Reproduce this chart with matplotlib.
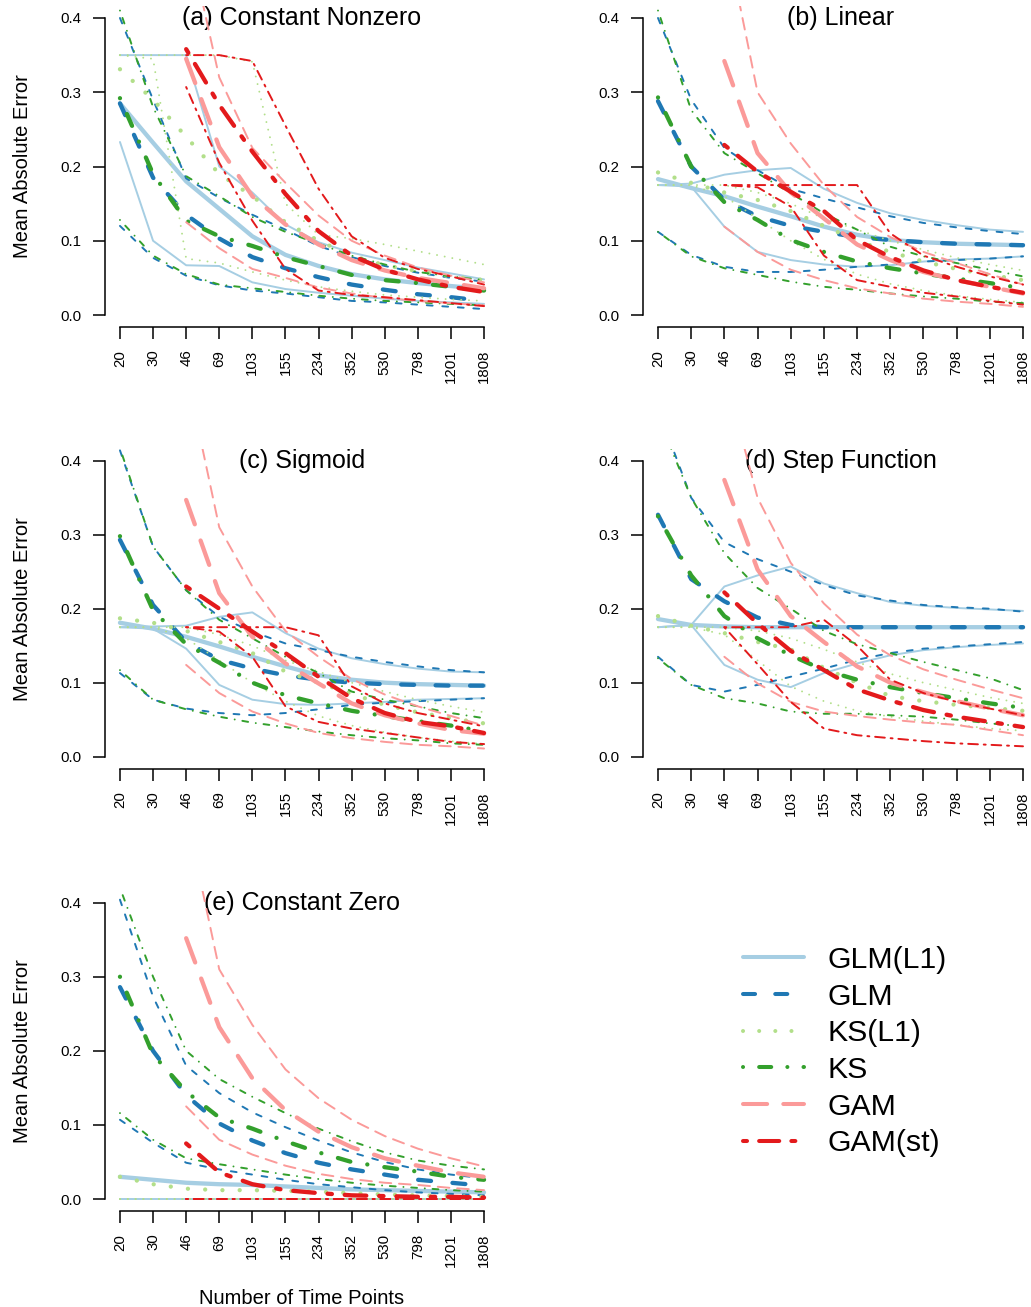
import numpy as np
import matplotlib
matplotlib.use('Agg')
import matplotlib.pyplot as plt
from matplotlib.lines import Line2D

nan = np.nan

N_LABELS = ['20', '30', '46', '69', '103', '155', '234', '352', '530', '798', '1201', '1808']
METHODS = ['GLM(L1)', 'GLM', 'KS(L1)', 'KS', 'GAM', 'GAM(st)']
TITLES = ['(a) Constant Nonzero', '(b) Linear', '(c) Sigmoid', '(d) Step Function', '(e) Constant Zero']
Y_TICKS = [0.0, 0.1, 0.2, 0.3, 0.4]
Y_TICK_LABELS = ['0.0', '0.1', '0.2', '0.3', '0.4']
Z12 = [0.0] * 12
Z_GAM = [nan, nan] + [0.0] * 10

# each series: (median, lower, upper)
# ---- (a) Constant Nonzero
A_GLML1 = ([0.285, 0.232, 0.180, 0.143, 0.106, 0.081, 0.066, 0.055, 0.048, 0.043, 0.039, 0.035],
           [0.233, 0.100, 0.067, 0.066, 0.044, 0.035, 0.030, 0.026, 0.022, 0.019, 0.017, 0.015],
           [0.350, 0.350, 0.350, 0.200, 0.165, 0.122, 0.098, 0.084, 0.074, 0.064, 0.056, 0.048])
A_GLM = ([0.285, 0.185, 0.135, 0.103, 0.078, 0.063, 0.051, 0.041, 0.034, 0.028, 0.024, 0.019],
         [0.120, 0.077, 0.053, 0.040, 0.033, 0.029, 0.024, 0.019, 0.017, 0.014, 0.011, 0.008],
         [0.400, 0.290, 0.184, 0.158, 0.135, 0.115, 0.093, 0.078, 0.066, 0.057, 0.050, 0.045])
A_KSL1 = ([0.331, 0.290, 0.240, 0.190, 0.160, 0.125, 0.100, 0.080, 0.067, 0.059, 0.052, 0.047],
          [0.350, 0.345, 0.076, 0.070, 0.058, 0.047, 0.038, 0.032, 0.027, 0.024, 0.021, 0.019],
          [0.350, 0.350, 0.350, 0.350, 0.341, 0.150, 0.108, 0.103, 0.095, 0.086, 0.077, 0.068])
A_KS = ([0.292, 0.190, 0.127, 0.106, 0.093, 0.078, 0.066, 0.054, 0.047, 0.043, 0.038, 0.033],
        [0.128, 0.080, 0.055, 0.041, 0.036, 0.031, 0.026, 0.022, 0.019, 0.017, 0.015, 0.013],
        [0.410, 0.280, 0.187, 0.160, 0.132, 0.112, 0.096, 0.080, 0.068, 0.058, 0.052, 0.047])
A_GAM = ([nan, nan, 0.345, 0.226, 0.160, 0.122, 0.095, 0.074, 0.060, 0.050, 0.043, 0.036],
         [nan, nan, 0.125, 0.090, 0.062, 0.050, 0.037, 0.029, 0.023, 0.019, 0.016, 0.013],
         [nan, nan, 0.520, 0.320, 0.225, 0.178, 0.134, 0.100, 0.080, 0.064, 0.053, 0.044])
A_GAMST = ([nan, nan, 0.358, 0.283, 0.220, 0.163, 0.113, 0.080, 0.061, 0.048, 0.038, 0.031],
           [nan, nan, 0.307, 0.205, 0.127, 0.062, 0.033, 0.027, 0.024, 0.020, 0.016, 0.012],
           [nan, nan, 0.350, 0.350, 0.342, 0.255, 0.170, 0.106, 0.077, 0.062, 0.052, 0.041])

# ---- (b) Linear
B_GLML1 = ([0.183, 0.171, 0.160, 0.146, 0.133, 0.119, 0.108, 0.101, 0.098, 0.096, 0.095, 0.094],
           [0.175, 0.173, 0.119, 0.085, 0.074, 0.068, 0.065, 0.067, 0.072, 0.075, 0.076, 0.079],
           [0.175, 0.177, 0.189, 0.195, 0.198, 0.170, 0.151, 0.137, 0.128, 0.121, 0.115, 0.112])
B_GLM = ([0.288, 0.200, 0.155, 0.133, 0.120, 0.112, 0.105, 0.101, 0.098, 0.096, 0.095, 0.094],
         [0.112, 0.081, 0.065, 0.058, 0.058, 0.061, 0.065, 0.068, 0.072, 0.074, 0.076, 0.079],
         [0.400, 0.290, 0.225, 0.195, 0.170, 0.157, 0.145, 0.133, 0.124, 0.118, 0.113, 0.109])
B_KSL1 = ([0.192, 0.178, 0.165, 0.155, 0.140, 0.120, 0.100, 0.085, 0.072, 0.062, 0.054, 0.047],
          [0.175, 0.175, 0.160, 0.130, 0.100, 0.075, 0.055, 0.042, 0.033, 0.026, 0.021, 0.017],
          [0.175, 0.175, 0.175, 0.165, 0.150, 0.130, 0.115, 0.100, 0.088, 0.077, 0.068, 0.060])
B_KS = ([0.293, 0.200, 0.152, 0.128, 0.101, 0.085, 0.072, 0.063, 0.056, 0.049, 0.043, 0.036],
        [0.112, 0.079, 0.063, 0.054, 0.045, 0.038, 0.034, 0.029, 0.025, 0.022, 0.018, 0.016],
        [0.410, 0.276, 0.218, 0.191, 0.164, 0.137, 0.115, 0.092, 0.079, 0.070, 0.061, 0.052])
B_GAM = ([nan, nan, 0.342, 0.218, 0.165, 0.130, 0.095, 0.074, 0.058, 0.047, 0.038, 0.029],
         [nan, nan, 0.119, 0.085, 0.061, 0.047, 0.036, 0.029, 0.022, 0.018, 0.015, 0.011],
         [nan, nan, 0.520, 0.300, 0.231, 0.175, 0.132, 0.105, 0.085, 0.070, 0.055, 0.041])
B_GAMST = ([nan, nan, 0.229, 0.193, 0.166, 0.140, 0.101, 0.078, 0.060, 0.047, 0.038, 0.030],
           [nan, nan, 0.175, 0.172, 0.146, 0.080, 0.047, 0.038, 0.030, 0.025, 0.019, 0.014],
           [nan, nan, 0.175, 0.175, 0.175, 0.175, 0.175, 0.110, 0.080, 0.065, 0.052, 0.041])

# ---- (c) Sigmoid
C_GLML1 = ([0.181, 0.173, 0.162, 0.149, 0.135, 0.122, 0.110, 0.104, 0.100, 0.098, 0.097, 0.096],
           [0.175, 0.173, 0.146, 0.097, 0.077, 0.071, 0.070, 0.072, 0.074, 0.077, 0.078, 0.079],
           [0.175, 0.176, 0.177, 0.189, 0.195, 0.167, 0.146, 0.133, 0.125, 0.119, 0.115, 0.114])
C_GLM = ([0.293, 0.205, 0.155, 0.131, 0.119, 0.110, 0.104, 0.100, 0.098, 0.097, 0.096, 0.096],
         [0.113, 0.077, 0.065, 0.059, 0.056, 0.059, 0.064, 0.070, 0.073, 0.075, 0.077, 0.079],
         [0.414, 0.284, 0.225, 0.189, 0.169, 0.153, 0.144, 0.135, 0.128, 0.122, 0.117, 0.114])
C_KSL1 = ([0.187, 0.181, 0.170, 0.155, 0.140, 0.115, 0.100, 0.085, 0.070, 0.060, 0.052, 0.045],
          [0.175, 0.175, 0.160, 0.130, 0.100, 0.075, 0.055, 0.042, 0.033, 0.026, 0.021, 0.017],
          [0.175, 0.175, 0.175, 0.165, 0.150, 0.130, 0.115, 0.100, 0.088, 0.077, 0.068, 0.060])
C_KS = ([0.298, 0.198, 0.152, 0.127, 0.100, 0.083, 0.072, 0.062, 0.055, 0.048, 0.042, 0.034],
        [0.117, 0.077, 0.064, 0.054, 0.046, 0.040, 0.034, 0.029, 0.025, 0.022, 0.018, 0.016],
        [0.417, 0.284, 0.225, 0.185, 0.160, 0.135, 0.113, 0.088, 0.077, 0.068, 0.059, 0.052])
C_GAM = ([nan, nan, 0.347, 0.221, 0.162, 0.126, 0.099, 0.072, 0.056, 0.045, 0.036, 0.031],
         [nan, nan, 0.124, 0.086, 0.061, 0.045, 0.032, 0.025, 0.020, 0.016, 0.014, 0.011],
         [nan, nan, 0.520, 0.310, 0.230, 0.170, 0.135, 0.105, 0.084, 0.068, 0.055, 0.042])
C_GAMST = ([nan, nan, 0.230, 0.200, 0.169, 0.140, 0.108, 0.079, 0.059, 0.047, 0.041, 0.032],
           [nan, nan, 0.175, 0.169, 0.135, 0.068, 0.047, 0.038, 0.032, 0.026, 0.020, 0.017],
           [nan, nan, 0.175, 0.175, 0.175, 0.175, 0.164, 0.095, 0.072, 0.059, 0.050, 0.041])

# ---- (d) Step Function
D_GLML1 = ([0.186, 0.178, 0.176, 0.175, 0.175, 0.175, 0.175, 0.175, 0.175, 0.175, 0.175, 0.175],
           [0.175, 0.178, 0.124, 0.104, 0.094, 0.113, 0.126, 0.137, 0.144, 0.148, 0.151, 0.153],
           [0.175, 0.178, 0.230, 0.245, 0.257, 0.234, 0.221, 0.209, 0.204, 0.201, 0.199, 0.197])
D_GLM = ([0.327, 0.240, 0.210, 0.188, 0.178, 0.175, 0.175, 0.175, 0.175, 0.175, 0.175, 0.175],
         [0.135, 0.097, 0.088, 0.097, 0.108, 0.119, 0.131, 0.140, 0.146, 0.149, 0.152, 0.155],
         [0.470, 0.350, 0.290, 0.267, 0.250, 0.232, 0.218, 0.211, 0.205, 0.202, 0.200, 0.196])
D_KSL1 = ([0.190, 0.177, 0.167, 0.155, 0.145, 0.120, 0.100, 0.082, 0.075, 0.070, 0.066, 0.062],
          [0.175, 0.175, 0.165, 0.130, 0.095, 0.075, 0.062, 0.054, 0.048, 0.043, 0.038, 0.035],
          [0.175, 0.175, 0.175, 0.170, 0.160, 0.145, 0.128, 0.112, 0.100, 0.090, 0.080, 0.072])
D_KS = ([0.325, 0.245, 0.190, 0.160, 0.137, 0.117, 0.104, 0.094, 0.086, 0.079, 0.072, 0.066],
        [0.133, 0.097, 0.079, 0.072, 0.061, 0.058, 0.058, 0.056, 0.054, 0.050, 0.045, 0.041],
        [0.460, 0.350, 0.275, 0.228, 0.200, 0.170, 0.152, 0.140, 0.128, 0.117, 0.106, 0.090])
D_GAM = ([nan, nan, 0.374, 0.253, 0.190, 0.155, 0.122, 0.100, 0.087, 0.075, 0.065, 0.056],
         [nan, nan, 0.135, 0.099, 0.074, 0.061, 0.055, 0.050, 0.046, 0.043, 0.036, 0.029],
         [nan, nan, 0.520, 0.350, 0.262, 0.207, 0.165, 0.137, 0.118, 0.104, 0.091, 0.079])
D_GAMST = ([nan, nan, 0.222, 0.180, 0.143, 0.117, 0.091, 0.076, 0.063, 0.054, 0.047, 0.040],
           [nan, nan, 0.175, 0.125, 0.074, 0.038, 0.029, 0.025, 0.021, 0.018, 0.016, 0.014],
           [nan, nan, 0.175, 0.175, 0.175, 0.185, 0.150, 0.104, 0.086, 0.074, 0.065, 0.056])

# ---- (e) Constant Zero
E_GLML1 = ([0.030, 0.026, 0.022, 0.020, 0.019, 0.017, 0.015, 0.013, 0.012, 0.011, 0.010, 0.009],
           Z12, Z12)
E_GLM = ([0.286, 0.200, 0.140, 0.102, 0.079, 0.062, 0.049, 0.040, 0.033, 0.026, 0.022, 0.018],
         [0.107, 0.076, 0.049, 0.040, 0.033, 0.026, 0.020, 0.016, 0.012, 0.009, 0.007, 0.005],
         [0.404, 0.273, 0.180, 0.143, 0.117, 0.097, 0.079, 0.063, 0.050, 0.040, 0.033, 0.028])
E_KSL1 = ([0.030, 0.020, 0.014, 0.012, 0.012, 0.011, 0.010, 0.008, 0.006, 0.005, 0.004, 0.003],
          Z12, Z12)
E_KS = ([0.300, 0.195, 0.145, 0.110, 0.095, 0.078, 0.063, 0.050, 0.043, 0.037, 0.030, 0.026],
        [0.116, 0.080, 0.055, 0.047, 0.040, 0.033, 0.027, 0.022, 0.018, 0.015, 0.012, 0.010],
        [0.420, 0.300, 0.200, 0.162, 0.138, 0.116, 0.095, 0.078, 0.063, 0.052, 0.045, 0.040])
E_GAM = ([nan, nan, 0.352, 0.232, 0.163, 0.120, 0.091, 0.070, 0.055, 0.045, 0.036, 0.030],
         [nan, nan, 0.125, 0.080, 0.060, 0.045, 0.034, 0.027, 0.022, 0.019, 0.015, 0.012],
         [nan, nan, 0.520, 0.310, 0.235, 0.175, 0.136, 0.107, 0.085, 0.068, 0.055, 0.044])
E_GAMST = ([nan, nan, 0.075, 0.036, 0.020, 0.012, 0.008, 0.005, 0.004, 0.003, 0.003, 0.002],
           Z_GAM, Z_GAM)

PANELS = [
    [A_GLML1, A_GLM, A_KSL1, A_KS, A_GAM, A_GAMST],
    [B_GLML1, B_GLM, B_KSL1, B_KS, B_GAM, B_GAMST],
    [C_GLML1, C_GLM, C_KSL1, C_KS, C_GAM, C_GAMST],
    [D_GLML1, D_GLM, D_KSL1, D_KS, D_GAM, D_GAMST],
    [E_GLML1, E_GLM, E_KSL1, E_KS, E_GAM, E_GAMST],
]

# ---------------- styling ----------------
COLORS = ['#A6CEE3', '#1F78B4', '#B2DF8A', '#33A02C', '#FB9A99', '#E31A1C']
DASHES = [None, (3, 5), (0.01, 4), (0.01, 4, 3, 4), (6, 4), (1, 3, 5, 3)]
LW_MED = 3.1
LW_LEG = 2.9
LW_THIN = 1.4

plt.rcParams['font.family'] = ['Liberation Sans', 'DejaVu Sans']

W, H = 1031, 1307
fig = plt.figure(figsize=(W / 100, H / 100), dpi=100)
fig.patch.set_facecolor('white')

# axes boxes in pixels: left, right, top, bottom
BOXES = [(105.4, 498.6, 6.1, 326.9), (643.4, 1037.6, 6.1, 326.9),
         (105.4, 498.6, 448.9, 768.5), (643.4, 1037.6, 448.9, 768.5),
         (105.4, 498.6, 890.8, 1210.9)]
x_idx = np.arange(len(N_LABELS))


def styled(line, mi):
    line.set_color(COLORS[mi])
    line.set_solid_capstyle('round')
    line.set_dash_capstyle('round')
    line.set_solid_joinstyle('round')
    line.set_dash_joinstyle('round')
    if DASHES[mi] is not None:
        line.set_dashes(DASHES[mi])
    return line


for p, (l, r, t, b) in enumerate(BOXES):
    ax = fig.add_axes([l / W, 1 - b / H, (r - l) / W, (b - t) / H])
    ax.set_xlim(-0.44, 11.44)
    ax.set_ylim(-0.016, 0.416)
    for mi, (med, lo, hi) in enumerate(PANELS[p]):
        ln, = ax.plot(x_idx, np.array(med, dtype=float), lw=LW_MED, zorder=2)
        styled(ln, mi)
        ln, = ax.plot(x_idx, np.array(lo, dtype=float), lw=LW_THIN, zorder=2)
        styled(ln, mi)
        ln, = ax.plot(x_idx, np.array(hi, dtype=float), lw=LW_THIN, zorder=2)
        styled(ln, mi)
    for s in ['top', 'right']:
        ax.spines[s].set_visible(False)
    ax.spines['left'].set_bounds(0.0, 0.4)
    ax.spines['bottom'].set_bounds(0, 11)
    for s in ['left', 'bottom']:
        ax.spines[s].set_linewidth(1.1)
    ax.set_xticks(x_idx)
    ax.set_xticklabels(N_LABELS, rotation=90, fontsize=10.8)
    ax.set_yticks(Y_TICKS)
    ax.set_yticklabels(Y_TICK_LABELS, fontsize=10.8)
    ax.tick_params(axis='both', direction='out', length=8.6, width=1.1)
    ax.tick_params(axis='x', pad=7.8)
    ax.tick_params(axis='y', pad=8.6)
    ax.text(0.5, 1 - 19.2 / (b - t), TITLES[p], transform=ax.transAxes,
            ha='center', va='baseline', fontsize=18, zorder=0.5)
    if p in (0, 2, 4):
        fig.text(23 / W, 1 - ((t + b) / 2) / H, 'Mean Absolute Error', rotation=90,
                 ha='center', va='center', fontsize=14.5)

fig.text(302 / W, 1 - 1304 / H, 'Number of Time Points', ha='center', va='baseline',
         fontsize=14.5)

handles = []
for mi in range(len(METHODS)):
    h = Line2D([], [], lw=LW_LEG)
    styled(h, mi)
    handles.append(h)
fig.legend(handles, METHODS, loc='upper left', bbox_to_anchor=(743 / W, 1 - 946 / H),
           frameon=False, fontsize=21.8, handlelength=2.0, handletextpad=0.8,
           labelspacing=0.285, borderpad=0, borderaxespad=0)

fig.savefig('out.png', dpi=100, facecolor='white')
